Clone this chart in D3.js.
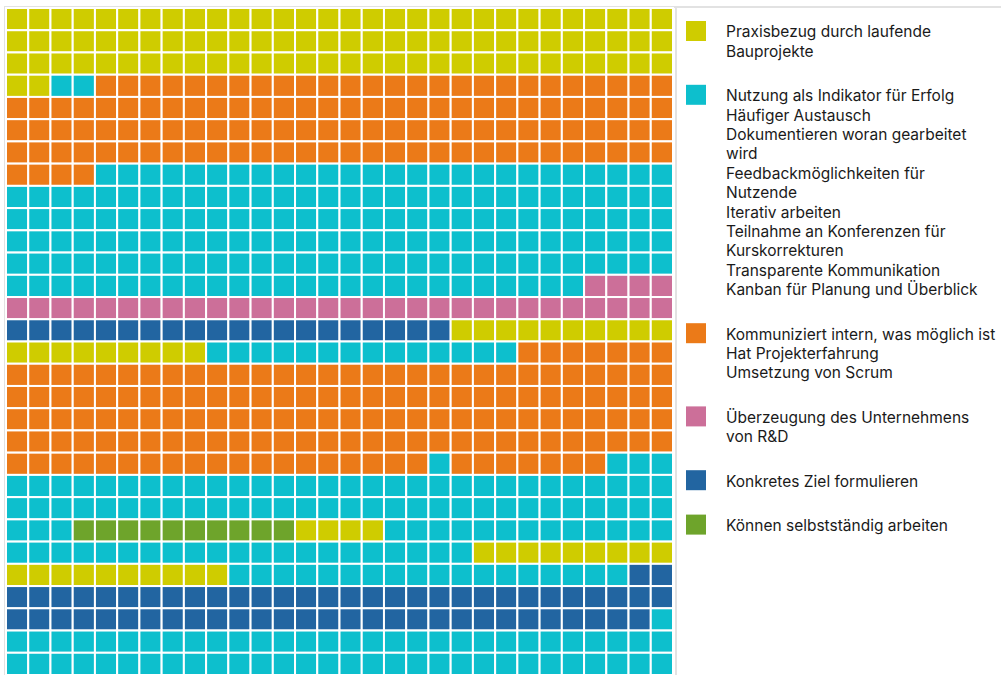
<!DOCTYPE html>
<html>
<head>
  <meta charset="utf-8">
  <style>
    body { margin: 0; background: #fff; }
    .legend text { font-family: Inter, "Noto Sans", sans-serif; font-size: 15.5px; fill: #1a1a1a; }
  </style>
</head>
<body>
  <script src="https://cdn.jsdelivr.net/npm/d3@7"></script>
  <script>
    // groups (legend entries share a colour)
    const groupColors = ["#cfcc00", "#0dbfcd", "#eb7a18", "#cc6f99", "#2265a1", "#6ea42b"];
    const groupItems = [
      ["Praxisbezug durch laufende Bauprojekte"],
      ["Nutzung als Indikator für Erfolg", "Häufiger Austausch", "Dokumentieren woran gearbeitet wird",
       "Feedbackmöglichkeiten für Nutzende", "Iterativ arbeiten", "Teilnahme an Konferenzen für Kurskorrekturen",
       "Transparente Kommunikation", "Kanban für Planung und Überblick"],
      ["Kommuniziert intern, was möglich ist", "Hat Projekterfahrung", "Umsetzung von Scrum"],
      ["Überzeugung des Unternehmens von R&D"],
      ["Konkretes Ziel formulieren"],
      ["Können selbstständig arbeiten"]
    ];

    // waffle runs: group index and number of cells, in reading order
    const segGroup = [0, 1, 2, 1, 3, 4, 0, 1, 2, 1, 2, 1, 5, 0, 1, 0, 1, 4, 1];
    const segCount = [92, 2, 120, 172, 34, 20, 19, 14, 146, 1, 7, 66, 10, 4, 34, 19, 18, 61, 61];

    const W = 1001, H = 675;
    const nCols = 30, nRows = 30;

    const svg = d3.select("body").append("svg")
      .attr("width", W).attr("height", H);

    // panel borders
    svg.append("path")
      .attr("d", "M5,700 L5,7 L676,7 L676,700")
      .attr("fill", "none").attr("stroke", "#e2e2e2").attr("stroke-width", 2);
    svg.append("line")
      .attr("x1", 676).attr("x2", W).attr("y1", 7).attr("y2", 7)
      .attr("stroke", "#e2e2e2").attr("stroke-width", 2);

    const x = d3.scaleBand().domain(d3.range(nCols)).range([6, 673]);
    const y = d3.scaleBand().domain(d3.range(nRows)).range([8, 8 + 667]);
    const color = d3.scaleOrdinal().domain(d3.range(groupColors.length)).range(groupColors);

    // expand runs into cells
    const cells = [];
    segGroup.forEach((g, i) => {
      for (let k = 0; k < segCount[i]; k++) cells.push({ i: cells.length, g: g });
    });

    svg.append("g")
      .selectAll("rect")
      .data(cells)
      .enter()
      .append("rect")
      .attr("x", d => x(d.i % nCols))
      .attr("y", d => y(Math.floor(d.i / nCols)))
      .attr("width", x.bandwidth())
      .attr("height", y.bandwidth())
      .attr("fill", d => color(d.g))
      .attr("stroke", "#fff")
      .attr("stroke-width", 2);

    // legend
    const legend = svg.append("g").attr("class", "legend");
    const lineH = 19.4, groupGap = 25, maxW = 272;
    let cy = 32;

    function wrap(str, textEl) {
      const words = str.split(" ");
      const lines = [];
      let cur = "";
      words.forEach(w => {
        const test = cur ? cur + " " + w : w;
        textEl.text(test);
        if (textEl.node().getComputedTextLength() > maxW && cur) {
          lines.push(cur);
          cur = w;
        } else cur = test;
      });
      lines.push(cur);
      return lines;
    }

    groupItems.forEach((items, g) => {
      legend.append("rect")
        .attr("x", 686).attr("y", cy - 11)
        .attr("width", 20).attr("height", 20)
        .attr("fill", color(g));
      items.forEach(item => {
        const probe = legend.append("text");
        const lines = wrap(item, probe);
        probe.remove();
        lines.forEach(l => {
          legend.append("text")
            .attr("x", 726).attr("y", cy)
            .attr("dy", "0.35em")
            .text(l);
          cy += lineH;
        });
      });
      cy += groupGap;
    });
  </script>
</body>
</html>
